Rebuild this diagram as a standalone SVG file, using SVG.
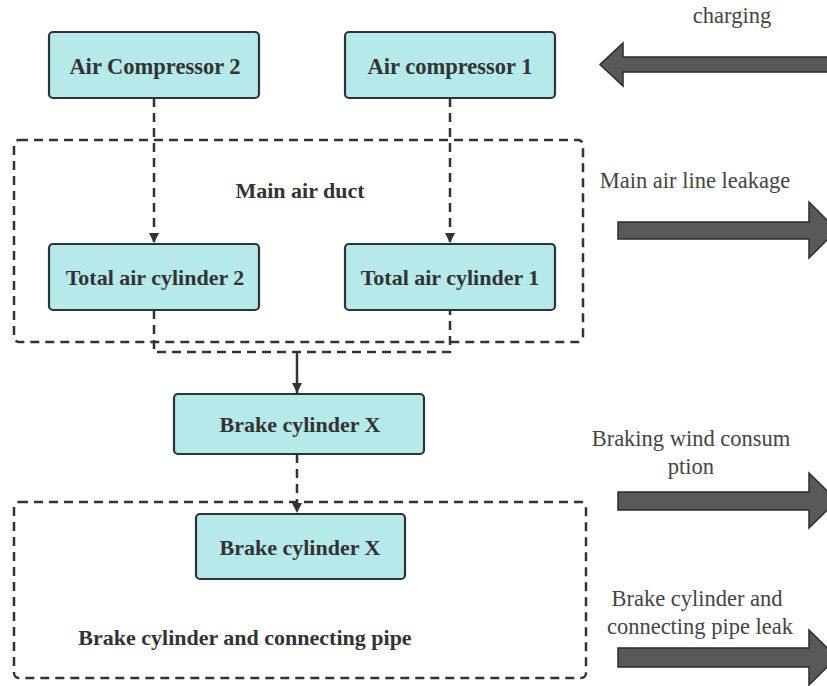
<svg xmlns="http://www.w3.org/2000/svg" width="827" height="686" viewBox="0 0 827 686">
<defs>
<style>
.node{fill:#b5e9ea;stroke:#2d3438;stroke-width:2.2}
.lbl{font-family:'Liberation Serif','Times New Roman',serif;font-weight:700;font-size:22px;fill:#333;text-anchor:middle;dominant-baseline:central}
.side{font-family:'Liberation Serif','Times New Roman',serif;font-size:22.5px;fill:#444;text-anchor:middle;dominant-baseline:central}
.grp{fill:none;stroke:#333;stroke-width:2.5;stroke-dasharray:9 6}
.dash{fill:none;stroke:#333;stroke-width:2.5;stroke-dasharray:9 6}
.solid{fill:none;stroke:#333;stroke-width:2.5}
.big{fill:#595959;stroke:#2b2b2b;stroke-width:1.5;stroke-linejoin:miter}
</style>
<marker id="ah" viewBox="0 0 10 10" refX="10" refY="5" markerWidth="10" markerHeight="12" markerUnits="userSpaceOnUse" orient="auto">
<path d="M0,0 L10,5 L0,10 z" fill="#333"/>
</marker>
</defs>
<rect width="827" height="686" fill="#fff"/>

<g id="main-air-duct">
<rect class="grp" x="14" y="140" width="569" height="202" rx="5"/>
<text class="lbl" x="300" y="190">Main air duct</text>
</g>
<g id="brake-group">
<rect class="grp" x="14" y="502" width="572" height="176" rx="5"/>
<text class="lbl" x="245" y="637">Brake cylinder and connecting pipe</text>
</g>

<g id="connectors">
<path class="dash" d="M154,98 V243" marker-end="url(#ah)"/>
<path class="dash" d="M450,98 V243" marker-end="url(#ah)"/>
<path class="dash" d="M154,310 V352 H450 V310"/>
<path class="solid" d="M297,352 V393" marker-end="url(#ah)"/>
<path class="dash" d="M297,454 V513" marker-end="url(#ah)"/>
</g>

<g id="air-compressor-2">
<rect class="node" x="49" y="32" width="210" height="66" rx="4"/>
<text class="lbl" x="155" y="66" style="font-size:22.5px">Air Compressor 2</text>
</g>
<g id="air-compressor-1">
<rect class="node" x="345" y="32" width="210" height="66" rx="4"/>
<text class="lbl" x="450" y="66" style="font-size:22.5px">Air compressor 1</text>
</g>
<g id="total-air-cylinder-2">
<rect class="node" x="49" y="244" width="210" height="66" rx="4"/>
<text class="lbl" x="155" y="277">Total air cylinder 2</text>
</g>
<g id="total-air-cylinder-1">
<rect class="node" x="345" y="244" width="210" height="66" rx="4"/>
<text class="lbl" x="450" y="277">Total air cylinder 1</text>
</g>
<g id="brake-cylinder-x-1">
<rect class="node" x="174" y="394" width="250" height="60" rx="4"/>
<text class="lbl" x="300" y="424">Brake cylinder X</text>
</g>
<g id="brake-cylinder-x-2">
<rect class="node" x="196" y="514" width="209" height="65" rx="4"/>
<text class="lbl" x="300" y="547">Brake cylinder X</text>
</g>

<g id="charging">
<text class="side" x="732" y="15">charging</text>
<path class="big" d="M830,57 H623 V43 L600,64.5 L623,86 V72 H830 z"/>
</g>
<g id="main-air-line-leakage">
<text class="side" x="695" y="180">Main air line leakage</text>
<path class="big" d="M618,222 H809 V202 L837,230 L809,258 V239 H618 z"/>
</g>
<g id="braking-wind">
<text class="side" x="691" y="438">Braking wind consum</text>
<text class="side" x="691" y="466">ption</text>
<path class="big" d="M618,492 H809 V473 L837,500.5 L809,528 V510 H618 z"/>
</g>
<g id="brake-leak">
<text class="side" x="697" y="598">Brake cylinder and</text>
<text class="side" x="700" y="626">connecting pipe leak</text>
<path class="big" d="M618,648 H809 V630 L837,657.5 L809,685 V667 H618 z"/>
</g>
</svg>
